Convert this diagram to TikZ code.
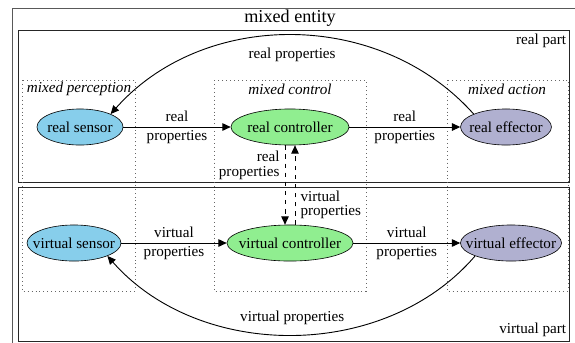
\documentclass[tikz,border=0pt]{standalone}
\usepackage{fontspec}
\setmainfont{Liberation Serif}
\usetikzlibrary{shapes.geometric,arrows.meta}
\definecolor{sensorblue}{HTML}{87CEEB}
\definecolor{ctrlgreen}{HTML}{90EE90}
\definecolor{effgray}{HTML}{B0B0D0}
\newcommand{\ctext}[1]{\makebox[0pt]{#1}}

\begin{document}
\begin{tikzpicture}[x=0.66pt,y=-0.66pt,
    every node/.style={font=\fontsize{10}{12.5}\selectfont},
    ent/.style={ellipse,draw=black,inner sep=0pt,minimum height=23.8pt},
    part/.style={draw=black!85,line width=0.6pt},
    group/.style={draw=black!60,dotted,line width=0.6pt},
    flow/.style={-{Triangle[length=5.5pt,width=5pt]},line width=0.6pt},
    tight/.style={font=\fontsize{10}{9.5}\selectfont}]
    \useasboundingbox (0,0) rectangle (575,342);

    \draw[draw=black!65,line width=0.6pt] (12,8) rectangle (590,360);
    \draw[part] (18,30) rectangle (569,182);
    \draw[part] (18,187) rectangle (569,341);

    \draw[group] (22,80) rectangle (135,291);
    \draw[group] (214,80) rectangle (366,291);
    \draw[group] (447,80) rectangle (568,291);

    \node (entity) at (290,18) {\fontsize{12}{14}\selectfont mixed entity};
    \node[anchor=east,inner sep=1pt] (realpart) at (568,41) {real part};
    \node[anchor=east,inner sep=1pt] (virtpart) at (568,330) {virtual part};

    \node (perc) at (79,89) {\itshape mixed perception};
    \node (ctrl) at (290,89) {\itshape mixed control};
    \node (act)  at (507,89) {\itshape mixed action};

    \node (rs)[ent,fill=sensorblue,minimum width=56.8pt] at (80,127)  {\ctext{real sensor}};
    \node (rc)[ent,fill=ctrlgreen,minimum width=77.9pt]  at (290,127) {\ctext{real controller}};
    \node (re)[ent,fill=effgray,minimum width=60pt]      at (506,127) {\ctext{real effector}};

    \node (vs)[ent,fill=sensorblue,minimum width=62pt]   at (74,243)  {\ctext{virtual sensor}};
    \node (vc)[ent,fill=ctrlgreen,minimum width=83.2pt]  at (290,243) {\ctext{virtual controller}};
    \node (ve)[ent,fill=effgray,minimum width=66.7pt]    at (511,243) {\ctext{virtual effector}};

    \foreach \from/\to/\what in
      {rs/rc/real, rc/re/real,
       vs/vc/virtual, vc/ve/virtual}
    \draw[flow] (\from) -- node[align=center] (l\from) {\what\\properties} (\to);

    \draw[flow,dashed] ([xshift=-3.3pt]rc.south) --
      node[pos=.25,anchor=east,align=right,tight] (ldown) {real\\properties} ([xshift=-3.3pt]vc.north);
    \draw[flow,dashed] ([xshift=3.3pt]vc.north) --
      node[pos=.25,anchor=west,align=left,tight] (lup) {virtual\\properties} ([xshift=3.3pt]rc.south);

    \draw[flow] (re.north west) .. controls (380,9) and (204,9) ..
      node[below=5pt] (ltop) {real properties} (rs.north east);
    \draw[flow] (ve.south west) .. controls (385,361) and (200,361) ..
      node[above=3pt] (lbot) {virtual properties} (vs.south east);
\end{tikzpicture}
\end{document}
